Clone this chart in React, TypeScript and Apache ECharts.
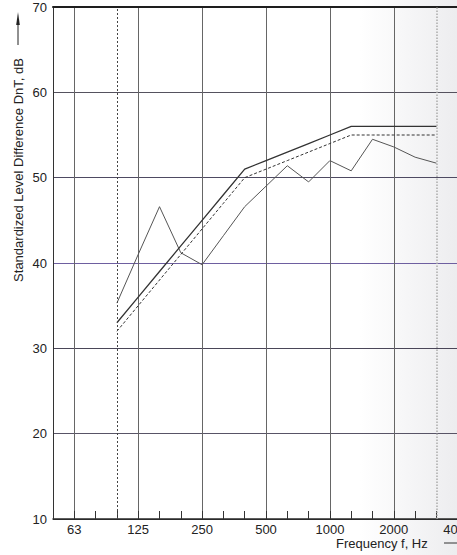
import React, { useEffect, useRef } from "react";
import * as echarts from "echarts";

const frequencies = ["50", "63", "80", "100", "125", "160", "200", "250", "315", "400", "500", "630", "800", "1000", "1250", "1600", "2000", "2500", "3150", "4000", "5000"];
const labelledFrequencies = ["63", "125", "250", "500", "1000", "2000", "4000"];
const measured = [null, null, null, 35.3, 41.0, 46.6, 41.2, 39.8, 43.2, 46.6, 49.0, 51.4, 49.5, 52.0, 50.8, 54.5, 53.6, 52.4, 51.7, null, null];
const referenceCurve = [null, null, null, 33, 36, 39, 42, 45, 48, 51, 52, 53, 54, 55, 56, 56, 56, 56, 56, null, null];
const shiftedCurve = [null, null, null, 32, 35, 38, 41, 44, 47, 50, 51, 52, 53, 54, 55, 55, 55, 55, 55, null, null];
const yTicks = [10, 20, 30, 40, 50, 60, 70];

const FONT = "'Liberation Sans', Arial, sans-serif";

export default function App() {
  const ref = useRef<HTMLDivElement>(null);
  useEffect(() => {
    if (!ref.current) return;
    const chart = echarts.init(ref.current, null, { renderer: "svg" });
    const octaveIdx = new Set(labelledFrequencies.map((f) => frequencies.indexOf(f)));
    chart.setOption({
      animation: false,
      backgroundColor: new echarts.graphic.LinearGradient(0, 0, 1, 0, [
        { offset: 0, color: "#ffffff" },
        { offset: 0.72, color: "#ffffff" },
        { offset: 0.9, color: "#eeeef0" },
        { offset: 1, color: "#e6e6e8" },
      ]),
      grid: { left: 53, top: 7, right: 21, bottom: 36, containLabel: false },
      xAxis: [
        {
          type: "category",
          data: frequencies,
          boundaryGap: false,
          axisLine: { show: true, lineStyle: { color: "#2a2a2a", width: 1.5 } },
          axisTick: { show: true, inside: true, length: 8, interval: 0, lineStyle: { color: "#333", width: 1 } },
          axisLabel: {
            interval: (i: number) => octaveIdx.has(i),
            color: "#222",
            fontSize: 13,
            fontFamily: FONT,
            margin: 4,
          },
          splitLine: {
            show: true,
            interval: (i: number) => octaveIdx.has(i),
            lineStyle: { color: "#666", width: 1 },
          },
        },
        {
          type: "category",
          data: frequencies,
          boundaryGap: false,
          position: "top",
          axisLine: { show: true, lineStyle: { color: "#1e1e1e", width: 2 } },
          axisTick: { show: false },
          axisLabel: { show: false },
          splitLine: { show: false },
        },
      ],
      yAxis: {
        type: "value",
        min: yTicks[0],
        max: yTicks[yTicks.length - 1],
        interval: 10,
        axisLine: { show: true, lineStyle: { color: "#333", width: 1 } },
        axisTick: { show: false },
        axisLabel: { color: "#222", fontSize: 13, fontFamily: FONT, margin: 6 },
        splitLine: {
          show: true,
          lineStyle: {
            color: ["#333", "#585466", "#4a4658", "#6e5fa0", "#4e4a62", "#55525e", "#222"],
            width: 1,
          },
        },
      },
      series: [
        {
          type: "line",
          data: measured,
          symbol: "none",
          connectNulls: false,
          lineStyle: { color: "#555", width: 1 },
          markLine: {
            silent: true,
            symbol: "none",
            label: { show: false },
            data: [
              { xAxis: "100", lineStyle: { color: "#444", width: 1, type: [2, 2] } },
              { xAxis: "3150", lineStyle: { color: "#aaa", width: 1.5, type: [1.5, 1.5] } },
            ],
          },
        },
        {
          type: "line",
          data: referenceCurve,
          symbol: "none",
          lineStyle: { color: "#333", width: 1.3 },
        },
        {
          type: "line",
          data: shiftedCurve,
          symbol: "none",
          lineStyle: { color: "#333", width: 1, type: [3, 2] },
        },
      ],
      graphic: [
        {
          type: "text",
          x: 18,
          y: 170,
          rotation: Math.PI / 2,
          style: {
            text: "Standardized Level Difference DnT, dB",
            fontSize: 13,
            fontFamily: FONT,
            fill: "#222",
            align: "center",
            verticalAlign: "middle",
          },
        },
        { type: "line", shape: { x1: 18, y1: 45, x2: 18, y2: 20 }, style: { stroke: "#222", lineWidth: 1 } },
        { type: "polygon", shape: { points: [[16.2, 25], [19.8, 25], [18, 12]] }, style: { fill: "#222" } },
        {
          type: "text",
          x: 336,
          y: 543,
          style: {
            text: "Frequency f, Hz",
            fontSize: 13,
            fontFamily: FONT,
            fill: "#222",
            align: "left",
            verticalAlign: "middle",
          },
        },
        { type: "line", shape: { x1: 444, y1: 543, x2: 470, y2: 543 }, style: { stroke: "#333", lineWidth: 1 } },
      ],
    });
    return () => chart.dispose();
  }, []);
  return (
    <div style={{ position: "fixed", left: 0, top: 0, width: 457, height: 555, overflow: "hidden", background: "#fff" }}>
      <div ref={ref} style={{ width: 500, height: 555 }} />
    </div>
  );
}
